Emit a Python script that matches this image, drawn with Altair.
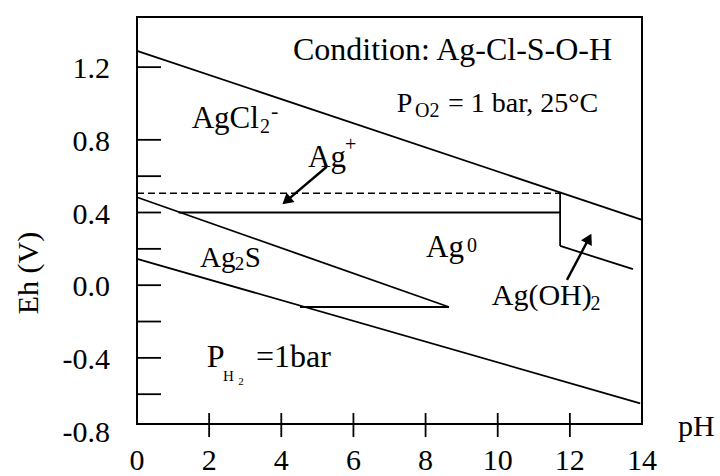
import math
import altair as alt
import pandas as pd

# ---------------- data ----------------
# phase boundaries (pH start, Eh start, pH end, Eh end)
seg_x1 = [0.0, 1.15, 11.73, 11.73, 0.0, 4.52, 0.0]
seg_y1 = [1.29, 0.40, 0.51, 0.216, 0.484, -0.12, 0.145]
seg_x2 = [14.0, 11.73, 11.73, 13.75, 8.65, 8.65, 13.95]
seg_y2 = [0.36, 0.40, 0.216, 0.088, -0.12, -0.12, -0.65]
# dashed boundary
dash_x1, dash_y1, dash_x2, dash_y2 = [0.0], [0.506], [11.73], [0.506]

# arrows (tail pH, tail Eh, tip pH, tip Eh)
arrow_tail_x = [5.26, 11.92]
arrow_tail_y = [0.652, 0.029]
arrow_tip_x = [4.01, 12.61]
arrow_tip_y = [0.442, 0.288]

# axis ticks / labels
x_tick_vals = [2, 4, 6, 8, 10, 12]
x_label_vals = [0, 2, 4, 6, 8, 10, 12, 14]
y_tick_vals = [1.2, 0.8, 0.6, 0.4, 0.2, 0.0, -0.2, -0.4, -0.6]
y_label_vals = [1.2, 0.8, 0.4, 0.0, -0.4, -0.8]
y_label_text = ["1.2", "0.8", "0.4", "0.0", "-0.4", "-0.8"]

# annotation texts and anchors (left, baseline) in data units
big_text = ["AgCl", "Ag", "Ag"]
big_x = [1.517, 4.741, 8.012]
big_y = [0.8635, 0.6505, 0.1569]
agoh_text, agoh_x, agoh_y = ["Ag(OH)"], [9.834], [-0.109]
ag2s_text = ["Ag", "S"]
ag2s_x = [1.747, 2.99]
ag2s_y = [0.1018, 0.1018]
sub_text = ["2", "+", "0", "2"]
sub_x = [3.410, 5.767, 9.15, 12.57]
sub_y = [0.8377, 0.7386, 0.1844, -0.1354]
minus_text, minus_x, minus_y = ["-"], [3.715], [0.9202]
ag2s_sub_text, ag2s_sub_x, ag2s_sub_y = ["2"], [2.71], [0.0837]
cond_text, cond_x, cond_y = ["Condition: Ag-Cl-S-O-H"], [4.325], [1.241]
po2_text = ["P", "= 1 bar, 25°C"]
po2_x = [7.20, 8.62]
po2_y = [0.9549, 0.9549]
po2_sub_text, po2_sub_x, po2_sub_y = ["O2"], [7.707], [0.9274]
ph2_text = ["P", "=1bar"]
ph2_x = [1.932, 3.30]
ph2_y = [-0.4485, -0.4485]
ph2_h_text, ph2_h_x, ph2_h_y = ["H"], [2.384], [-0.5272]
ph2_2_text, ph2_2_x, ph2_2_y = ["2"], [2.81], [-0.5493]

# ---------------- layout ----------------
W, H = 505, 407
XDOM = [0, 14]
YDOM = [-0.764, 1.476]
SX = W / (XDOM[1] - XDOM[0])
SY = H / (YDOM[1] - YDOM[0])
FONT = "Liberation Serif, Times New Roman, DejaVu Serif, serif"

xs = alt.Scale(domain=XDOM, nice=False, zero=False)
ys = alt.Scale(domain=YDOM, nice=False, zero=False)


def X(f):
    return alt.X(f, type="quantitative", scale=xs, axis=None)


def Y(f):
    return alt.Y(f, type="quantitative", scale=ys, axis=None)


def X2(f):
    return alt.X2(f)


def Y2(f):
    return alt.Y2(f)


def text_layer(texts, xv, yv, size, align="left", baseline="alphabetic", dy=0):
    df = pd.DataFrame({"t": texts, "x": xv, "y": yv})
    return alt.Chart(df).mark_text(
        align=align, baseline=baseline, font=FONT, fontSize=size, color="black", dy=dy
    ).encode(x=X("x"), y=Y("y"), text="t:N")


# boundaries
seg_df = pd.DataFrame({"x": seg_x1, "y": seg_y1, "x2": seg_x2, "y2": seg_y2})
segs = alt.Chart(seg_df).mark_rule(color="black", strokeWidth=1.8).encode(
    x=X("x"), y=Y("y"), x2=X2("x2"), y2=Y2("y2"))
dash_df = pd.DataFrame({"x": dash_x1, "y": dash_y1, "x2": dash_x2, "y2": dash_y2})
dashed = alt.Chart(dash_df).mark_rule(color="black", strokeWidth=1.6, strokeDash=[7, 4]).encode(
    x=X("x"), y=Y("y"), x2=X2("x2"), y2=Y2("y2"))

# arrows
HEAD = 6.3
shaft_rows, head_rows = [], []
for tx, ty, px, py in zip(arrow_tail_x, arrow_tail_y, arrow_tip_x, arrow_tip_y):
    dx = (px - tx) * SX
    dy = -(py - ty) * SY
    L = math.hypot(dx, dy)
    ux, uy = dx / L, dy / L
    cx = px - HEAD * ux / SX
    cy = py + HEAD * uy / SY
    ang = math.degrees(math.atan2(ux, -uy)) % 360
    shaft_rows.append({"x": tx, "y": ty, "x2": cx, "y2": cy})
    head_rows.append({"x": cx, "y": cy, "a": ang})
shafts = alt.Chart(pd.DataFrame(shaft_rows)).mark_rule(color="black", strokeWidth=2.4).encode(
    x=X("x"), y=Y("y"), x2=X2("x2"), y2=Y2("y2"))
heads = alt.Chart(pd.DataFrame(head_rows)).mark_point(
    shape="triangle-up", filled=True, color="black", opacity=1, size=150).encode(
    x=X("x"), y=Y("y"), angle=alt.Angle("a:Q", scale=None))

# ticks
ytick_df = pd.DataFrame({"v": y_tick_vals})
yticks = alt.Chart(ytick_df).mark_rule(color="black", strokeWidth=1.8).encode(
    x=alt.value(0), x2=alt.value(24), y=Y("v"))
xtick_df = pd.DataFrame({"v": x_tick_vals})
xticks = alt.Chart(xtick_df).mark_rule(color="black", strokeWidth=1.8).encode(
    x=X("v"), y=alt.value(H - 11), y2=alt.value(H + 13))

ylabels = alt.Chart(pd.DataFrame({"v": y_label_vals, "t": y_label_text})).mark_text(
    align="right", baseline="middle", font=FONT, fontSize=30, color="black", dy=2).encode(
    x=alt.value(-27), y=Y("v"), text="t:N")
xlabels = alt.Chart(pd.DataFrame({"v": x_label_vals})).mark_text(
    align="center", baseline="middle", font=FONT, fontSize=30, color="black").encode(
    x=X("v"), y=alt.value(H + 37), text=alt.Text("v:Q", format="d"))

ph_title = alt.Chart(pd.DataFrame({"t": ["pH"]})).mark_text(
    align="left", baseline="alphabetic", font=FONT, fontSize=30, color="black").encode(
    x=alt.value(W + 36), y=alt.value(H + 12), text="t:N")
eh_title = alt.Chart(pd.DataFrame({"t": ["Eh (V)"]})).mark_text(
    align="center", baseline="middle", font=FONT, fontSize=30, color="black", angle=270).encode(
    x=alt.value(-108), y=alt.value(256), text="t:N")

layers = [
    segs, dashed, shafts, heads, yticks, xticks, ylabels, xlabels, ph_title, eh_title,
    text_layer(cond_text, cond_x, cond_y, 32),
    text_layer(big_text, big_x, big_y, 31),
    text_layer(agoh_text, agoh_x, agoh_y, 30),
    text_layer(ag2s_text, ag2s_x, ag2s_y, 29),
    text_layer(sub_text, sub_x, sub_y, 20),
    text_layer(minus_text, minus_x, minus_y, 22),
    text_layer(ag2s_sub_text, ag2s_sub_x, ag2s_sub_y, 19),
    text_layer(po2_text, po2_x, po2_y, 28),
    text_layer(po2_sub_text, po2_sub_x, po2_sub_y, 20),
    text_layer(ph2_text, ph2_x, ph2_y, 32),
    text_layer(ph2_h_text, ph2_h_x, ph2_h_y, 15),
    text_layer(ph2_2_text, ph2_2_x, ph2_2_y, 11),
]

chart = alt.layer(*layers).properties(
    width=W, height=H,
    autosize=alt.AutoSizeParams(type="none"),
    padding={"left": 137, "top": 17, "right": 78, "bottom": 52},
    background="white",
).configure_view(stroke="black", strokeWidth=2)

chart.save("out.html", embed_options={"renderer": "svg", "actions": False})
